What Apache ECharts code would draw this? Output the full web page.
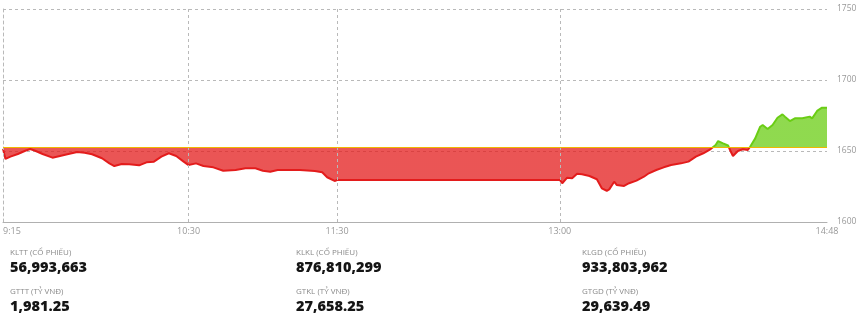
<!DOCTYPE html>
<html>
<head>
<meta charset="utf-8">
<script src="https://cdn.jsdelivr.net/npm/echarts@6/dist/echarts.min.js"></script>
<style>
html,body{margin:0;padding:0;background:#fff;}
#chart{width:860px;height:319px;}
</style>
</head>
<body>
<div id="chart"></div>
<script>
// ---- data ----
const times = ['09:15','09:16','09:18','09:21','09:24','09:26','09:28','09:31','09:35','09:38','09:41','09:45','09:48','09:51','09:55','09:58','10:00','10:03','10:06','10:10','10:13','10:16','10:19','10:22','10:25','10:28','10:30','10:33','10:36','10:40','10:44','10:49','10:53','10:57','11:00','11:03','11:06','11:15','11:21','11:24','11:26','11:29','11:30','13:00','13:01','13:03','13:05','13:07','13:09','13:12','13:15','13:17','13:19','13:20','13:22','13:23','13:26','13:28','13:31','13:34','13:36','13:39','13:42','13:45','13:49','13:52','13:55','13:58','14:01','14:03','14:04','14:06','14:08','14:09','14:10','14:12','14:14','14:16','14:17','14:19','14:21','14:22','14:24','14:26','14:28','14:30','14:31','14:33','14:35','14:38','14:41','14:42','14:44','14:46','14:48'];
const values = [1651.5,1644.4,1646.0,1647.9,1650.2,1651.4,1650.2,1647.9,1645.3,1646.5,1647.7,1649.3,1648.8,1647.7,1644.9,1641.3,1639.4,1640.8,1640.6,1639.9,1642.0,1642.5,1646.0,1648.4,1646.5,1642.5,1640.1,1641.3,1639.4,1638.5,1636.1,1636.6,1637.8,1637.8,1636.1,1635.4,1636.6,1636.6,1635.9,1635.0,1631.5,1628.9,1629.6,1629.6,1627.3,1631.2,1630.8,1634.0,1633.6,1632.4,1630.1,1623.7,1622.0,1623.0,1628.4,1626.1,1625.4,1627.3,1629.1,1631.9,1634.3,1636.6,1638.5,1640.1,1641.3,1642.5,1646.0,1648.4,1651.4,1654.2,1657.0,1655.4,1653.9,1650.0,1646.5,1650.0,1651.2,1650.7,1653.2,1658.9,1667.1,1668.3,1665.5,1668.3,1673.4,1675.8,1674.2,1671.1,1673.0,1673.0,1674.2,1673.0,1678.2,1680.5,1680.5];
const refValue = 1652.9;
const xTickLabels = ['9:15','10:30','11:30','13:00','14:48'];
const yMin = 1600, yMax = 1750, yStep = 50;
const statLabels = ['KLTT (CỔ PHIẾU)','KLKL (CỔ PHIẾU)','KLGD (CỔ PHIẾU)','GTTT (TỶ VNĐ)','GTKL (TỶ VNĐ)','GTGD (TỶ VNĐ)'];
const statValues = ['56,993,663','876,810,299','933,803,962','1,981.25','27,658.25','29,639.49'];

// ---- helpers ----
const START = 9*60+15;
function toMin(t){ const p = t.split(':').map(Number); return p[0]*60+p[1]-START; }
const seriesData = times.map((t,i)=>[toMin(t), values[i]]);
const tickVals = xTickLabels.map(toMin);
const endMin = tickVals[tickVals.length-1];
const labelMap = {}; tickVals.forEach((v,i)=>labelMap[v]=xTickLabels[i]);

const gridColor = '#b9b9b9';
const dash = [3,3];

const colX = [10, 296, 582];
const graphics = [];
statLabels.forEach((lab,i)=>{
  const col = i % 3, row = Math.floor(i/3);
  graphics.push({type:'text', left: colX[col], top: 249 + row*39,
    style:{text: lab, fill:'#8a8a8a', font:'8px "Open Sans", sans-serif'}});
  graphics.push({type:'text', left: colX[col], top: 260 + row*39,
    style:{text: statValues[i], fill:'#151515', font:'800 14.5px "Open Sans", sans-serif'}});
});

const chart = echarts.init(document.getElementById('chart'), null, {renderer:'canvas'});
chart.setOption({
  animation:false,
  grid:{left:3, top:9, width:824, height:213, containLabel:false},
  xAxis:{
    type:'value', min:0, max:endMin,
    axisLine:{show:true, lineStyle:{color:'#b0b0b0', width:1}},
    axisTick:{show:false},
    splitLine:{show:false},
    axisLabel:{
      customValues: tickVals,
      formatter: v => labelMap[v] || '',
      color:'#999', fontSize:9, margin:5,
      fontFamily:'"Open Sans", sans-serif',
      alignMinLabel:'left'
    }
  },
  yAxis:{
    type:'value', position:'right', min:yMin, max:yMax, interval:yStep,
    axisLine:{show:true, lineStyle:{color:gridColor, type:dash}},
    axisTick:{show:false},
    splitLine:{show:true, lineStyle:{color:gridColor, type:dash}},
    axisLabel:{color:'#999', fontSize:8.5, margin:10, fontFamily:'"Open Sans", sans-serif',
      formatter: v => String(v)}
  },
  visualMap:{
    show:false, type:'piecewise', seriesIndex:0, dimension:1,
    pieces:[{gte:0, lt:refValue, color:'#e31c1c'},{gte:refValue, lte:100000, color:'#6acd14'}]
  },
  graphic: graphics,
  series:[
    {
      type:'line', data: seriesData, showSymbol:false, z:3,
      lineStyle:{width:2},
      areaStyle:{origin: refValue, opacity:0.75}
    },
    {
      type:'line', data:[], z:1, silent:true,
      markLine:{
        silent:true, symbol:'none', label:{show:false},
        lineStyle:{color:gridColor, type:dash, width:1},
        data: tickVals.slice(0,-1).map(v=>({xAxis:v}))
      }
    },
    {
      type:'line', data:[], z:5, silent:true,
      markLine:{
        silent:true, symbol:'none', label:{show:false},
        lineStyle:{color:'#efb700', type:'solid', width:1.2},
        data:[{yAxis:refValue}]
      }
    }
  ]
});
</script>
</body>
</html>
